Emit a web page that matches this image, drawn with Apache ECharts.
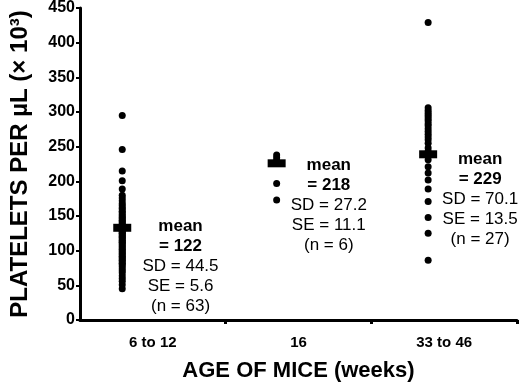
<!DOCTYPE html>
<html>
<head>
<meta charset="utf-8">
<script src="https://cdn.jsdelivr.net/npm/echarts@6/dist/echarts.min.js"></script>
<style>html,body{margin:0;padding:0;background:#fff}#c{width:520px;height:387px}</style>
</head>
<body>
<div id="c"></div>
<script>
// ---- data ----
const categories = ['6 to 12', '16', '33 to 46'];
const groupX = [0.29, 1.35, 2.39];
const group1 = [295, 246, 215, 201, 189, 180, 176, 172, 168, 165, 162, 160, 157, 155, 152, 150, 148, 146, 144, 142,
  140, 138, 136, 135, 133, 132, 130, 128, 127, 125, 124, 122, 120, 119, 117, 115, 113, 112, 110, 108,
  106, 104, 102, 100, 98, 96, 94, 92, 90, 88, 86, 84, 82, 80, 77, 74, 71, 68, 64, 60, 56, 51, 45];
const group2 = [238, 234, 230, 226, 197, 173];
const group3 = [429, 306, 302, 299, 296, 293, 290, 287, 283, 280, 276, 272, 268, 264, 260, 255, 248, 243,
  231, 221, 212, 202, 189, 171, 148, 125, 86];
const meanMarks = [133, 226, 239];
const meanText = ['122', '218', '229'];
const sdText = ['44.5', '27.2', '70.1'];
const seText = ['5.6', '11.1', '13.5'];
const nText = ['63', '6', '27'];
const annotX = [0.69, 1.708, 2.747];
const annotY = [77, 166, 174];
const yTicks = [0, 50, 100, 150, 200, 250, 300, 350, 400, 450];

const FONT = "'Liberation Sans', Arial, Helvetica, sans-serif";
const groups = [group1, group2, group3];
const dots = [];
groups.forEach((g, i) => g.forEach(v => dots.push([groupX[i], v])));
const means = meanMarks.map((m, i) => [groupX[i], m]);
const annots = annotX.map((x, i) => ({
  value: [x, annotY[i]],
  label: {
    formatter: '{b|mean}\n{b|= ' + meanText[i] + '}\n{n|SD = ' + sdText[i] + '}\n{n|SE = ' + seText[i] + '}\n{n|(n = ' + nText[i] + ')}'
  }
}));

const chart = echarts.init(document.getElementById('c'), null, {renderer: 'canvas'});
chart.setOption({
  animation: false,
  backgroundColor: '#fff',
  grid: {left: 78, right: 3, top: 8, bottom: 65.5},
  xAxis: {
    type: 'value', min: 0, max: 3,
    name: 'AGE OF MICE (weeks)', nameLocation: 'middle', nameGap: 40,
    nameTextStyle: {fontFamily: FONT, fontWeight: 'bold', fontSize: 22, color: '#000'},
    axisLine: {show: true, lineStyle: {color: '#000', width: 3}},
    axisTick: {show: true, customValues: [1, 2, 3], length: 4, lineStyle: {color: '#000', width: 3}},
    axisLabel: {
      customValues: categories.map((c, i) => i + 0.5),
      formatter: v => categories[Math.floor(v)] || '',
      margin: 15, fontFamily: FONT, fontWeight: 'bold', fontSize: 15, color: '#000'
    },
    splitLine: {show: false}
  },
  yAxis: {
    type: 'value', min: 0, max: 450, interval: 50,
    name: 'PLATELETS PER µL (× 10³)', nameLocation: 'middle', nameGap: 48,
    nameTextStyle: {fontFamily: FONT, fontWeight: 'bold', fontSize: 24, color: '#000'},
    axisLine: {show: true, lineStyle: {color: '#000', width: 3}},
    axisTick: {show: true, length: 4, lineStyle: {color: '#000', width: 2}},
    axisLabel: {
      customValues: yTicks,
      margin: 5, fontFamily: FONT, fontWeight: 'bold', fontSize: 16, color: '#000'
    },
    splitLine: {show: false}
  },
  series: [
    {type: 'scatter', data: dots, symbol: 'circle', symbolSize: 7, itemStyle: {color: '#000', opacity: 1}, z: 3},
    {type: 'scatter', data: means, symbol: 'rect', symbolSize: [18, 8], itemStyle: {color: '#000', opacity: 1}, z: 4},
    {
      type: 'scatter', data: annots, symbolSize: 1, itemStyle: {color: 'rgba(0,0,0,0)', opacity: 1}, z: 5,
      label: {
        show: true, position: 'inside', align: 'center', verticalAlign: 'middle',
        color: '#000', textBorderWidth: 0, textBorderColor: 'transparent',
        rich: {
          b: {fontFamily: FONT, fontWeight: 'bold', fontSize: 17, lineHeight: 20, color: '#000', textBorderWidth: 0},
          n: {fontFamily: FONT, fontWeight: 'normal', fontSize: 17, lineHeight: 20, color: '#000', textBorderWidth: 0}
        }
      }
    }
  ]
});
</script>
</body>
</html>
